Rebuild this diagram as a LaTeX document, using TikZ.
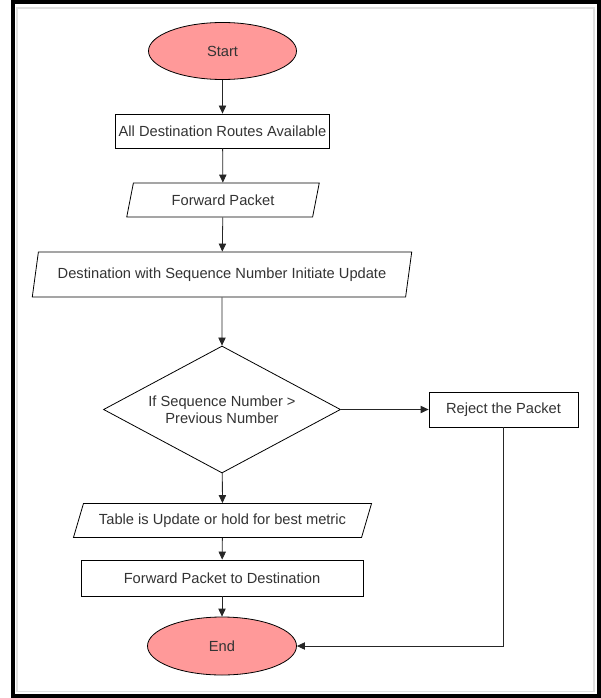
\documentclass[tikz,border=0pt]{standalone}
\usepackage{fontspec}
\setmainfont{Liberation Sans}
\usetikzlibrary{shapes.geometric,arrows.meta}
\definecolor{termfill}{HTML}{FF9999}
\definecolor{ink}{HTML}{333333}
\begin{document}
\begin{tikzpicture}[x=0.75pt,y=-0.75pt,
  every node/.style={font=\fontsize{11pt}{13pt}\selectfont, text=ink},
  term/.style={ellipse, draw=black, line width=0.6pt, fill=termfill, inner sep=0pt},
  procbox/.style={rectangle, draw=black, line width=0.6pt, fill=white, inner sep=0pt},
  iobox/.style={trapezium, trapezium stretches=true, draw=black, line width=0.6pt, fill=white, inner sep=0pt},
  decbox/.style={diamond, aspect=1.87, draw=black, line width=0.6pt, fill=white, inner sep=0pt, align=center},
  flow/.style={draw=black!85, line width=0.6pt, -{Triangle[length=6pt,width=5.5pt]}}
]
\useasboundingbox (0,0) rectangle (600,698);
% outer frame
\draw[black, line width=3pt] (12.5,2.5) rectangle (598.5,696);
\draw[black!12, line width=1pt] (17,8) rectangle (594,691.5);

\node[term, minimum width=111pt, minimum height=42.75pt] (start) at (222.5,51) {Start};
\node[procbox, minimum width=160.5pt, minimum height=25.5pt] (routes) at (222.5,131) {All Destination Routes Available};
\node[iobox, trapezium left angle=70.5, trapezium right angle=109.5, minimum width=145.5pt, minimum height=25.5pt] (fwd) at (223,200) {Forward Packet};
\node[iobox, trapezium left angle=68.2, trapezium right angle=111.8, minimum width=285pt, minimum height=33.75pt] (dest) at (222,274.5) {Destination with Sequence Number Initiate Update};
\node[decbox, minimum width=177.75pt, minimum height=95.25pt] (dec) at (222,409.5) {If Sequence Number >\\Previous Number};
\node[procbox, minimum width=111.75pt, minimum height=26.25pt] (reject) at (503.5,409.5) {Reject the Packet};
\node[iobox, trapezium left angle=57, trapezium right angle=123, minimum width=224.25pt, minimum height=25.5pt] (table) at (222.5,520.5) {Table is Update or hold for best metric};
\node[procbox, minimum width=211.5pt, minimum height=27pt] (fpd) at (222,578) {Forward Packet to Destination};
\node[term, minimum width=111.75pt, minimum height=43.5pt] (end) at (222,646) {End};

\draw[flow] (start) -- (routes);
\draw[flow] (routes) -- (fwd);
\draw[flow] (fwd) -- (dest);
\draw[flow] (dest) -- (dec);
\draw[flow] (dec.east) -- (reject.west);
\draw[flow] (dec) -- (table);
\draw[flow] (table) -- (fpd);
\draw[flow] (fpd) -- (end);
\draw[flow] (reject.south) |- (end.east);
\end{tikzpicture}
\end{document}
